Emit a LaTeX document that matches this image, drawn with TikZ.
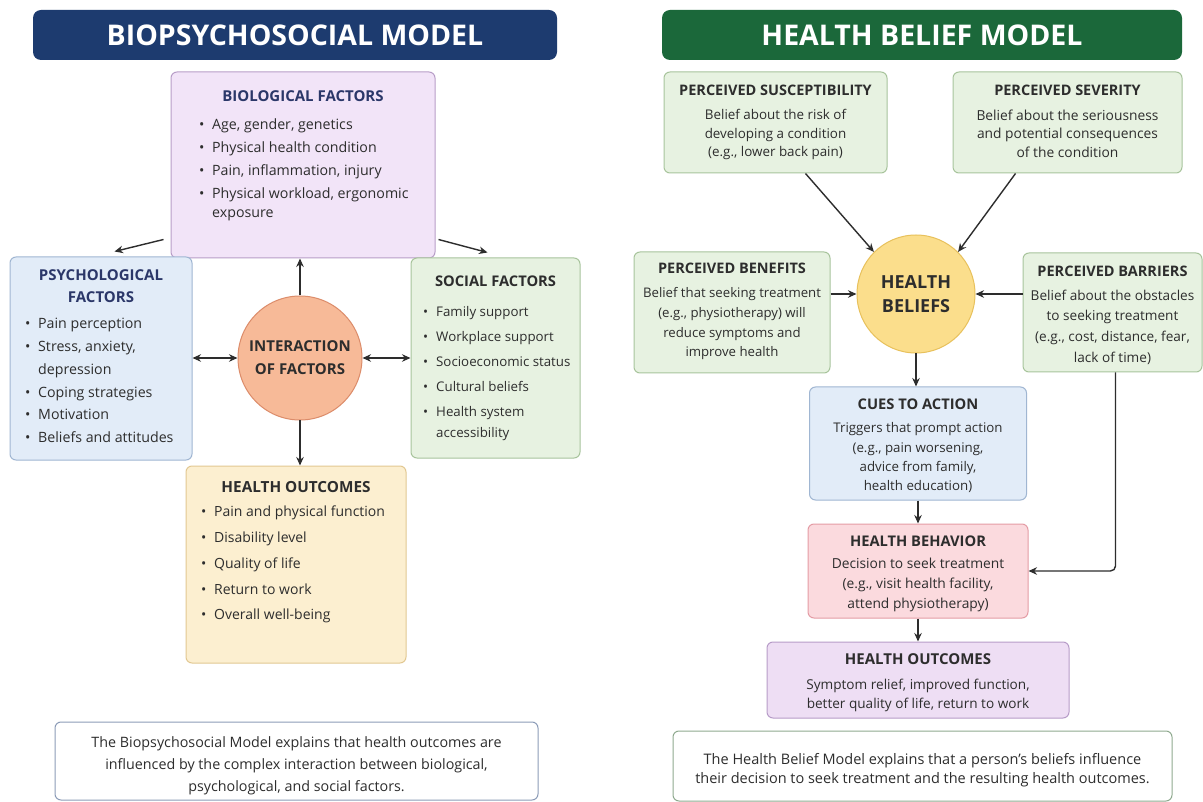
\documentclass[tikz,border=0pt]{standalone}
\usepackage{fontspec}
\setmainfont{Open Sans}
\usetikzlibrary{arrows.meta,calc}
\definecolor{navy}{RGB}{29,59,111}
\definecolor{dgreen}{RGB}{27,104,58}
\definecolor{navytxt}{RGB}{43,55,105}
\definecolor{txt}{RGB}{45,45,45}
\definecolor{arrowc}{RGB}{45,45,45}
\definecolor{bioF}{RGB}{242,228,248}\definecolor{bioD}{RGB}{184,158,200}
\definecolor{psyF}{RGB}{226,236,248}\definecolor{psyD}{RGB}{160,182,210}
\definecolor{socF}{RGB}{231,242,225}\definecolor{socD}{RGB}{168,196,156}
\definecolor{intF}{RGB}{247,186,152}\definecolor{intD}{RGB}{220,140,106}
\definecolor{hoF}{RGB}{252,239,208}\definecolor{hoD}{RGB}{226,200,146}
\definecolor{hbF}{RGB}{251,222,140}\definecolor{hbD}{RGB}{232,193,92}
\definecolor{behF}{RGB}{251,218,222}\definecolor{behD}{RGB}{228,156,165}
\definecolor{oF}{RGB}{238,222,244}\definecolor{oD}{RGB}{183,156,200}
\definecolor{botD}{RGB}{140,156,184}\definecolor{botG}{RGB}{144,170,144}
\newcommand\itm{\makebox[13pt][l]{\textbullet}}
\newcommand\cnt{\hspace*{13pt}}
\newcommand\fs[2]{\fontsize{#1}{#2}\selectfont}
\begin{document}
\begin{tikzpicture}[x=1pt,y=-1pt,
  box/.style={draw, rounded corners=6pt, line width=1pt, inner sep=0, minimum width=#1},
  tbar/.style={rounded corners=8pt, inner sep=0, minimum height=50pt, text=white,
     font=\bfseries\fs{28.5}{32}},
  ttl/.style={inner sep=0, anchor=north, text=txt},
  body/.style={inner sep=0, align=center, anchor=north, text=txt},
  lst/.style={inner sep=0, align=left, anchor=north west, text=txt},
  arr/.style={-{Stealth[length=8.5pt,width=7.5pt]}, line width=1.4pt, draw=arrowc},
  dbl/.style={{Stealth[length=8.5pt,width=7.5pt]}-{Stealth[length=8.5pt,width=7.5pt]}, line width=1.4pt, draw=arrowc},
  circ/.style={circle, draw, line width=1pt, inner sep=0, align=center}
]
\fill[white] (0,0) rectangle (1203,802);
\useasboundingbox (0,0) rectangle (1203,802);

% ---------------- LEFT: BIOPSYCHOSOCIAL ----------------
\node[tbar, fill=navy, minimum width=524pt] (tL) at (295,35) {BIOPSYCHOSOCIAL MODEL};

\node[box=264pt, minimum height=186pt, fill=bioF, draw=bioD] (bio) at (303,165) {};
\node[ttl, text=navytxt, font=\bfseries\fs{15}{18}] (bioT) at (303,90) {BIOLOGICAL FACTORS};
\node[lst, font=\fs{14.2}{23}] (bioL) at (199,119) {\itm Age, gender, genetics\\ \itm Physical health condition\\ \itm Pain, inflammation, injury\\ \itm Physical workload, ergonomic\\[-4pt] \cnt exposure};

\node[box=182pt, minimum height=203pt, fill=psyF, draw=psyD] (psy) at (101,358.5) {};
\node[ttl, align=center, text=navytxt, font=\bfseries\fs{15}{22}] (psyT) at (101,269) {PSYCHOLOGICAL\\FACTORS};
\node[lst, font=\fs{14.2}{22.8}] (psyL) at (25,318) {\itm Pain perception\\ \itm Stress, anxiety,\\ \cnt depression\\ \itm Coping strategies\\ \itm Motivation\\ \itm Beliefs and attitudes};

\node[box=169pt, minimum height=200pt, fill=socF, draw=socD] (soc) at (495.5,358) {};
\node[ttl, font=\bfseries\fs{14.7}{18}] (socT) at (495.5,276) {SOCIAL FACTORS};
\node[lst, font=\fs{13.3}{25}] (socL) at (423,306.5) {\itm Family support\\ \itm Workplace support\\ \itm Socioeconomic status\\ \itm Cultural beliefs\\ \itm Health system\\[-4pt] \cnt accessibility};

\node[circ, minimum size=124pt, fill=intF, draw=intD, font=\bfseries\fs{15}{23}, text=txt] (int) at (300,358) {INTERACTION\\OF FACTORS};

\node[box=220pt, minimum height=197pt, fill=hoF, draw=hoD] (hoL) at (296,564.5) {};
\node[ttl, font=\bfseries\fs{15.3}{18}] (hoLT) at (296,481) {HEALTH OUTCOMES};
\node[lst, font=\fs{14}{25.7}] (hoLL) at (201,506) {\itm Pain and physical function\\ \itm Disability level\\ \itm Quality of life\\ \itm Return to work\\ \itm Overall well-being};

\node[box=483pt, minimum height=78pt, fill=white, draw=botD] (botL) at (296.5,761) {};
\node[body, font=\fs{14.3}{22}] (botLT) at (296.5,736) {The Biopsychosocial Model explains that health outcomes are\\influenced by the complex interaction between biological,\\psychological, and social factors.};

\draw[arr] ([shift={(-7,-19)}]bio.south west) -- ([shift={(105,-5)}]psy.north west);
\draw[arr] ([shift={(3,-19)}]bio.south east) -- ([shift={(77,-5)}]soc.north west);
\draw[arr] (int.north) -- (int.north |- bio.south);
\draw[arr] (int.south) -- (int.south |- hoL.north);
\draw[dbl] (psy.east |- int.west) -- (int.west);
\draw[dbl] (int.east) -- (int.east -| soc.west);

% ---------------- RIGHT: HEALTH BELIEF MODEL ----------------
\node[tbar, fill=dgreen, minimum width=520pt] (tR) at (922,35) {HEALTH BELIEF MODEL};

\node[box=223pt, minimum height=101pt, fill=socF, draw=socD] (sus) at (775.5,122.5) {};
\node[ttl, font=\bfseries\fs{14.5}{18}] (susT) at (775.5,85) {PERCEIVED SUSCEPTIBILITY};
\node[body, font=\fs{13.4}{18.5}] (susB) at (775.5,109.5) {Belief about the risk of\\developing a condition\\(e.g., lower back pain)};

\node[box=229pt, minimum height=101pt, fill=socF, draw=socD] (sev) at (1067.5,122.5) {};
\node[ttl, font=\bfseries\fs{14.5}{18}] (sevT) at (1067.5,85) {PERCEIVED SEVERITY};
\node[body, font=\fs{13.8}{18.5}] (sevB) at (1067.5,109.5) {Belief about the seriousness\\and potential consequences\\of the condition};

\node[circ, minimum size=118pt, fill=hbF, draw=hbD, font=\bfseries\fs{18}{24}, text=txt] (hb) at (916,294) {HEALTH\\BELIEFS};

\node[box=196pt, minimum height=121pt, fill=socF, draw=socD] (ben) at (732,312.5) {};
\node[ttl, font=\bfseries\fs{14.5}{18}] (benT) at (732,263) {PERCEIVED BENEFITS};
\node[body, font=\fs{13.2}{19.7}] (benB) at (732,287.5) {Belief that seeking treatment\\(e.g., physiotherapy) will\\reduce symptoms and\\improve health};

\node[box=179pt, minimum height=119pt, fill=socF, draw=socD] (bar) at (1112.5,312.5) {};
\node[ttl, font=\bfseries\fs{14.5}{18}] (barT) at (1112.5,266) {PERCEIVED BARRIERS};
\node[body, font=\fs{13.6}{20.7}] (barB) at (1112.5,289.5) {Belief about the obstacles\\to seeking treatment\\(e.g., cost, distance, fear,\\lack of time)};

\node[box=217pt, minimum height=113pt, fill=psyF, draw=psyD] (cues) at (918,443.5) {};
\node[ttl, font=\bfseries\fs{14.7}{18}] (cuesT) at (918,399) {CUES TO ACTION};
\node[body, font=\fs{13.3}{19.3}] (cuesB) at (918,422.5) {Triggers that prompt action\\(e.g., pain worsening,\\advice from family,\\health education)};

\node[box=220pt, minimum height=94pt, fill=behF, draw=behD] (beh) at (918,571) {};
\node[ttl, font=\bfseries\fs{14.7}{18}] (behT) at (918,536) {HEALTH BEHAVIOR};
\node[body, font=\fs{13.8}{20}] (behB) at (918,557.5) {Decision to seek treatment\\(e.g., visit health facility,\\attend physiotherapy)};

\node[box=302pt, minimum height=76pt, fill=oF, draw=oD] (hoR) at (918,680) {};
\node[ttl, font=\bfseries\fs{15}{18}] (hoRT) at (918,653) {HEALTH OUTCOMES};
\node[body, font=\fs{13.6}{19}] (hoRB) at (918,678.5) {Symptom relief, improved function,\\better quality of life, return to work};

\node[box=499pt, minimum height=70pt, fill=white, draw=botG] (botR) at (922.5,766) {};
\node[body, font=\fs{14.5}{19.5}] (botRT) at (922.5,753) {The Health Belief Model explains that a person's beliefs influence\\their decision to seek treatment and the resulting health outcomes.};

\draw[arr] ([xshift=30]sus.south) -- (hb.north west);
\draw[arr] ([xshift=-52]sev.south) -- (hb.north east);
\draw[arr] (ben.east |- hb.west) -- (hb.west);
\draw[arr] (bar.west |- hb.east) -- (hb.east);
\draw[arr] (hb.south) -- (hb.south |- cues.north);
\draw[arr] (cues.south) -- (beh.north);
\draw[arr] (beh.south) -- (hoR.north);
\draw[arr, rounded corners=5pt] ([xshift=3]bar.south) |- (beh.east);
\end{tikzpicture}
\end{document}
